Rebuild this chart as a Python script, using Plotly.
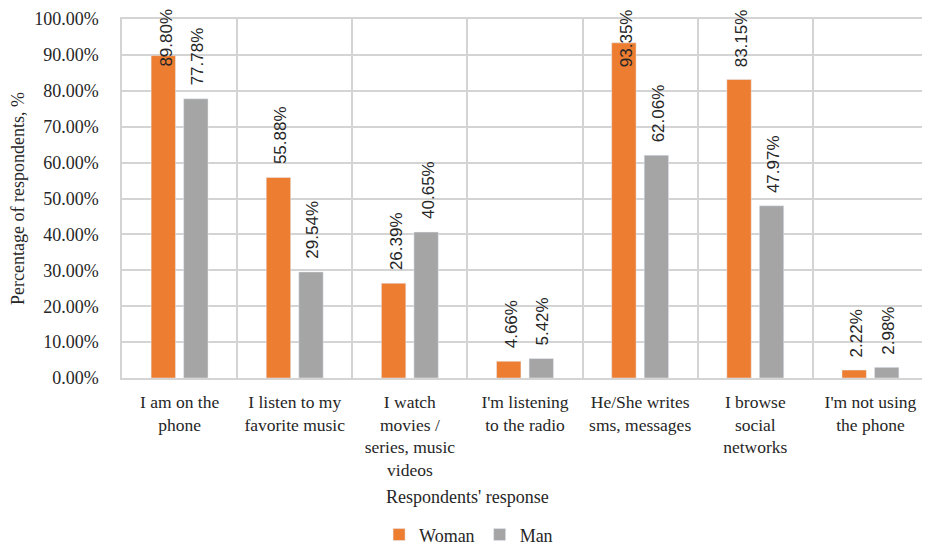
import plotly.graph_objects as go

categories = [
    "I am on the<br>phone",
    "I listen to my<br>favorite music",
    "I watch<br>movies /<br>series, music<br>videos",
    "I'm listening<br>to the radio",
    "He/She writes<br>sms, messages",
    "I browse<br>social<br>networks",
    "I'm not using<br>the phone",
]
woman = [89.80, 55.88, 26.39, 4.66, 93.35, 83.15, 2.22]
man = [77.78, 29.54, 40.65, 5.42, 62.06, 47.97, 2.98]
series_names = ["Woman", "Man"]
y_ticks = [0, 10, 20, 30, 40, 50, 60, 70, 80, 90, 100]
y_tick_text = [f"{v:.2f}%" for v in y_ticks]

ORANGE = "#ED7D31"
GRAY = "#A5A5A5"
SERIF = "'Liberation Serif', 'Times New Roman', 'DejaVu Serif', serif"
LABEL_FONT = "'Liberation Sans', Arial, sans-serif"
TEXT = "#262626"
GRID = "#D4D4D4"
LABEL_CAP = 83.0  # labels are kept inside the chart area, as in the source

fig = go.Figure()
fig.add_bar(x=categories, y=woman, name=series_names[0], marker_color=ORANGE)
fig.add_bar(x=categories, y=man, name=series_names[1], marker_color=GRAY)

annotations = []
for vals, shift in ((woman, -14), (man, 18)):
    for c, v in zip(categories, vals):
        annotations.append(dict(
            x=c, y=min(v, LABEL_CAP), xref="x", yref="y",
            text=f"{v:.2f}%", textangle=-90, showarrow=False,
            yanchor="bottom", xanchor="center", xshift=shift, yshift=11,
            font=dict(family=LABEL_FONT, size=17, color=TEXT),
        ))

annotations.append(dict(
    text="Respondents' response", xref="paper", yref="paper",
    x=0.429, y=-0.331, xanchor="center", yanchor="middle", showarrow=False,
    font=dict(family=SERIF, size=18, color=TEXT),
))

fig.update_layout(
    width=922, height=540,
    margin=dict(l=114, r=2, t=11, b=170, autoexpand=False),
    paper_bgcolor="white", plot_bgcolor="white",
    barmode="group", bargap=0.435, bargroupgap=0.25,
    font=dict(family=SERIF, size=18, color=TEXT),
    legend=dict(orientation="h", x=0.43, xanchor="center", xref="paper",
                y=-0.437, yanchor="middle", yref="paper",
                font=dict(family=SERIF, size=18, color=TEXT),
                itemwidth=30, tracegroupgap=0),
    annotations=annotations,
    showlegend=True,
)
fig.update_xaxes(
    type="category", tickson="boundaries", showgrid=True, gridcolor=GRID, gridwidth=1.5,
    showline=True, mirror=True, linecolor=GRID, linewidth=1.5, ticks="",
    tickfont=dict(family=SERIF, size=17.5, color=TEXT), ticklabelstandoff=7,
    automargin=False,
)
fig.update_yaxes(
    range=[0, 100], tickvals=y_ticks, ticktext=y_tick_text,
    showgrid=True, gridcolor=GRID, gridwidth=1.5, zeroline=False,
    showline=True, mirror=True, linecolor=GRID, linewidth=1.5, ticks="",
    tickfont=dict(family=SERIF, size=18, color=TEXT), ticklabelstandoff=18,
    title=dict(text="Percentage of respondents, %", standoff=8,
               font=dict(family=SERIF, size=18, color=TEXT)),
    automargin=False,
)

fig.write_html("out.html")
